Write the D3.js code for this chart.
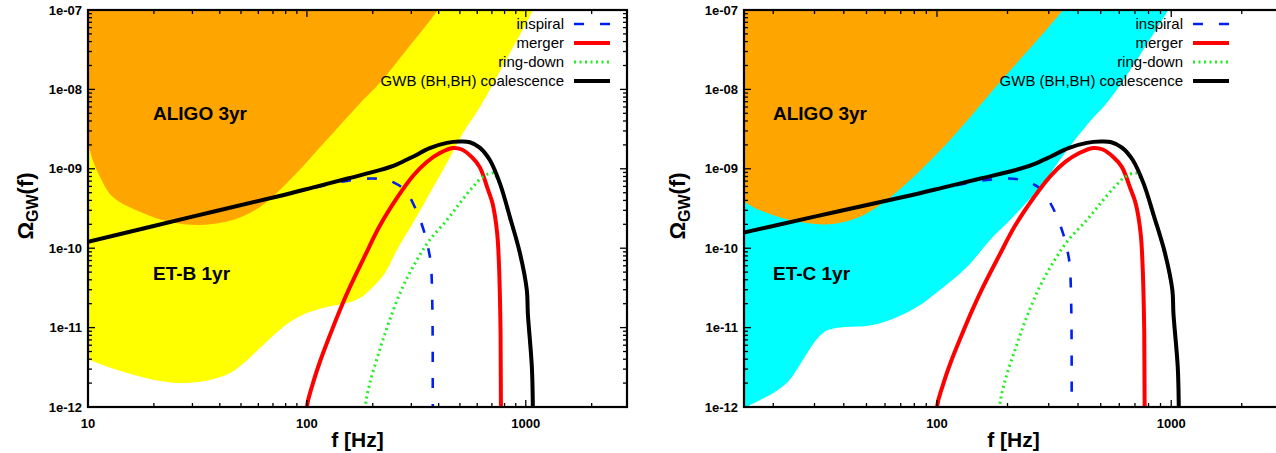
<!DOCTYPE html>
<html>
<head>
<meta charset="utf-8">
<script src="https://cdn.jsdelivr.net/npm/d3@7"></script>
<style>
  body { margin: 0; background: #fff; }
  svg { display: block; }
  text { font-family: "Liberation Sans", Arial, Helvetica, sans-serif; }
</style>
</head>
<body>
<svg id="chart" width="1276" height="453"></svg>
<script>
// ---- axis ticks ----
const yTickValues = [1e-12, 1e-11, 1e-10, 1e-9, 1e-8, 1e-7];
const yTickLabels = ["1e-12", "1e-11", "1e-10", "1e-09", "1e-08", "1e-07"];
const xTickValues = [10, 100, 1000];
const xTickLabels = ["10", "100", "1000"];

// ---- sensitivity curves: [frequency Hz, Omega_GW] (filled region lies above) ----
const aligoLeft = [
  [9.3, 1e-8], [9.9, 2.5e-9], [10.4, 1.41e-9], [11.35, 7.9e-10], [13.0, 4.4e-10],
  [17.8, 2.77e-10], [23.7, 2.14e-10], [32.5, 1.96e-10], [45.9, 2.26e-10],
  [61.0, 3.3e-10], [86.3, 7.9e-10], [123, 2.3e-9], [175, 6.7e-9], [215, 1.2e-8],
  [294, 3.5e-8], [396, 1e-7], [500, 3e-7]
];
const aligoRight = [
  [12.5, 8e-10], [14.97, 3.93e-10], [19.9, 2.62e-10], [27.8, 2.07e-10], [35.9, 2.02e-10],
  [45.5, 2.4e-10], [57.1, 3.5e-10], [74.4, 6.62e-10], [113.7, 2.31e-9], [185.8, 1.24e-8],
  [345, 1e-7], [497, 4.3e-7]
];
const etB = [
  [9.79, 4.14e-12], [11.34, 3.48e-12], [15.08, 2.68e-12], [21.33, 2.12e-12], [27.16, 2.0e-12],
  [36.08, 2.19e-12], [44.53, 2.68e-12], [52.15, 3.69e-12], [61.07, 5.53e-12], [71.5, 8.3e-12],
  [83.7, 1.18e-11], [100.1, 1.53e-11], [123.6, 1.82e-11], [152.5, 2.04e-11], [174.8, 2.36e-11],
  [198.4, 3.16e-11], [227.4, 4.88e-11], [257.9, 9.5e-11], [305.2, 2.07e-10], [364.9, 4.95e-10],
  [436.5, 1.18e-9], [516.6, 2.82e-9], [617.8, 6.0e-9], [803.5, 2.21e-8], [1079, 1e-7],
  [1300, 3e-7]
];
const etC = [
  [13, 5e-13], [14.97, 9.4e-13], [17.52, 1.22e-12], [20.31, 1.55e-12], [23.08, 2.07e-12],
  [25.47, 3.1e-12], [28.1, 4.93e-12], [31.01, 7.4e-12], [34.22, 9.3e-12], [40.45, 1.02e-11],
  [50.2, 1.05e-11], [63.0, 1.25e-11], [82.1, 1.82e-11], [103, 2.98e-11], [134.3, 5.8e-11],
  [168.5, 1.27e-10], [205, 2.26e-10], [275.5, 5.9e-10], [359.4, 1.73e-9], [437.5, 3.6e-9],
  [548.7, 7.6e-9], [971, 1e-7], [1200, 3e-7]
];

// ---- (BH,BH) coalescence background components ----
const inspiral = [
  [10, 1.2e-10], [30, 2.5e-10], [60, 3.95e-10], [100, 5.5e-10], [150, 7.0e-10],
  [200, 7.55e-10], [232, 7.2e-10], [250, 6.7e-10], [272, 5.8e-10], [292, 4.6e-10],
  [311, 3.3e-10], [326, 2.45e-10], [346, 1.5e-10], [357, 1.05e-10], [368, 6.5e-11],
  [374, 2e-11], [376, 1e-12], [376.5, 1e-13]
];
const merger = [
  [99.6, 1e-13], [100, 1e-12], [106, 1.89e-12], [114.6, 3.69e-12], [127.5, 8.07e-12],
  [141.6, 1.67e-11], [157.3, 3.25e-11], [184, 8.0e-11], [215, 1.9e-10], [258, 4.29e-10],
  [305, 8.1e-10], [353, 1.22e-9], [405, 1.58e-9], [464, 1.83e-9], [510, 1.75e-9],
  [567, 1.4e-9], [616, 1.05e-9], [670, 5.6e-10], [706, 3.6e-10], [740, 1.55e-10],
  [755, 5.8e-11], [767, 8.5e-12], [770, 1e-12], [770.5, 1e-13]
];
const ringdown = [
  [184, 1e-13], [185, 1e-12], [194, 2.0e-12], [215, 5.2e-12], [239, 1.25e-11],
  [274, 3.24e-11], [318, 7.1e-11], [364, 1.27e-10], [436, 2.26e-10], [500, 3.7e-10],
  [573, 5.9e-10], [636, 7.9e-10], [710, 8.8e-10], [761, 6.3e-10], [845, 2.4e-10],
  [940, 8.3e-11], [1011, 2.8e-11], [1022, 1.45e-11], [1066, 3e-12], [1078, 1e-12],
  [1080, 1e-13]
];
const gwb = [
  [10, 1.2e-10], [30, 2.5e-10], [75, 4.55e-10], [106, 5.8e-10], [152, 7.5e-10],
  [215, 9.6e-10], [258, 1.14e-9], [305, 1.42e-9], [364, 1.82e-9], [436, 2.12e-9],
  [500, 2.2e-9], [555, 2.16e-9], [616, 1.85e-9], [685, 1.29e-9], [761, 6.6e-10],
  [845, 2.5e-10], [940, 8.7e-11], [1011, 2.97e-11], [1022, 1.5e-11], [1066, 3.2e-12],
  [1077, 1e-12], [1079, 1e-13]
];

const legendNames = ["inspiral", "merger", "ring-down", "GWB (BH,BH) coalescence"];

const svg = d3.select("#chart");

const series = [
  { data: inspiral, color: "#0020f0", width: 2.6, dash: "10,16" },
  { data: merger,   color: "#ff0000", width: 4,   dash: null },
  { data: ringdown, color: "#22ee22", width: 3,   dash: "2,3.5" },
  { data: gwb,      color: "#000000", width: 4,   dash: null }
];

function drawPanel(cfg) {
  const g = svg.append("g");
  const x = d3.scaleLog().domain(cfg.fDomain).range([cfg.left, cfg.right]);
  const y = d3.scaleLog().domain([1e-12, 1e-7]).range([cfg.bottom, cfg.top]);

  const clipId = "clip-" + cfg.id;
  svg.append("clipPath").attr("id", clipId).append("rect")
    .attr("x", cfg.left).attr("y", cfg.top)
    .attr("width", cfg.right - cfg.left).attr("height", cfg.bottom - cfg.top);

  const plot = g.append("g").attr("clip-path", `url(#${clipId})`);
  const smooth = d3.curveCatmullRom.alpha(0.5);

  const above = d3.area()
    .x(d => x(d[0])).y0(cfg.top - 5).y1(d => y(d[1])).curve(smooth);

  plot.append("path").datum(cfg.etData).attr("d", above).attr("fill", cfg.etColor);
  plot.append("path").datum(cfg.aligoData).attr("d", above).attr("fill", "#ffa500");

  // region labels
  g.append("text").attr("x", cfg.labelX).attr("y", 120)
    .attr("font-size", 19).attr("font-weight", "bold").attr("fill", "#000").text("ALIGO 3yr");
  g.append("text").attr("x", cfg.labelX).attr("y", 280)
    .attr("font-size", 19).attr("font-weight", "bold").attr("fill", "#000").text(cfg.etLabel);

  const line = d3.line().x(d => x(d[0])).y(d => y(d[1])).curve(smooth);
  series.forEach(s => {
    plot.append("path").datum(s.data).attr("d", line)
      .attr("fill", "none").attr("stroke", s.color).attr("stroke-width", s.width)
      .attr("stroke-dasharray", s.dash).attr("stroke-linejoin", "round");
  });

  // ticks (inward, mirrored)
  const tk = g.append("g").attr("stroke", "#000").attr("stroke-width", 1.3);
  const yMinor = [];
  for (let e = -12; e < -7; e++) for (let m = 2; m <= 9; m++) yMinor.push(m * Math.pow(10, e));
  yMinor.forEach(v => {
    tk.append("line").attr("x1", cfg.left).attr("x2", cfg.left + 4).attr("y1", y(v)).attr("y2", y(v));
    tk.append("line").attr("x1", cfg.right).attr("x2", cfg.right - 4).attr("y1", y(v)).attr("y2", y(v));
  });
  yTickValues.forEach(v => {
    tk.append("line").attr("x1", cfg.left).attr("x2", cfg.left + 7).attr("y1", y(v)).attr("y2", y(v));
    tk.append("line").attr("x1", cfg.right).attr("x2", cfg.right - 7).attr("y1", y(v)).attr("y2", y(v));
  });
  const xMinor = [];
  for (let e = 1; e <= 3; e++) for (let m = 2; m <= 9; m++) {
    const v = m * Math.pow(10, e);
    if (v > cfg.fDomain[0] && v < cfg.fDomain[1]) xMinor.push(v);
  }
  xMinor.forEach(v => {
    tk.append("line").attr("x1", x(v)).attr("x2", x(v)).attr("y1", cfg.bottom).attr("y2", cfg.bottom - 4);
    tk.append("line").attr("x1", x(v)).attr("x2", x(v)).attr("y1", cfg.top).attr("y2", cfg.top + 4);
  });
  xTickValues.forEach(v => {
    if (v < cfg.fDomain[0] || v > cfg.fDomain[1]) return;
    tk.append("line").attr("x1", x(v)).attr("x2", x(v)).attr("y1", cfg.bottom).attr("y2", cfg.bottom - 7);
    tk.append("line").attr("x1", x(v)).attr("x2", x(v)).attr("y1", cfg.top).attr("y2", cfg.top + 7);
  });

  // frame
  g.append("rect").attr("x", cfg.left).attr("y", cfg.top)
    .attr("width", cfg.right - cfg.left).attr("height", cfg.bottom - cfg.top)
    .attr("fill", "none").attr("stroke", "#000").attr("stroke-width", 2.2);

  // tick labels
  yTickValues.forEach((v, i) => {
    g.append("text").attr("x", cfg.left - 6).attr("y", y(v) + 4.5)
      .attr("text-anchor", "end").attr("font-size", 13).attr("font-weight", "bold")
      .text(yTickLabels[i]);
  });
  xTickValues.forEach((v, i) => {
    if (v < cfg.fDomain[0] || v > cfg.fDomain[1]) return;
    g.append("text").attr("x", x(v)).attr("y", cfg.bottom + 21)
      .attr("text-anchor", "middle").attr("font-size", 13).attr("font-weight", "bold")
      .text(xTickLabels[i]);
  });

  // axis titles
  g.append("text").attr("x", (cfg.left + cfg.right) / 2).attr("y", 447)
    .attr("text-anchor", "middle").attr("font-size", 21).attr("font-weight", "bold")
    .text("f [Hz]");
  const yt = g.append("text")
    .attr("transform", `translate(${cfg.yTitleX},206) rotate(-90)`)
    .attr("text-anchor", "middle").attr("font-size", 22).attr("font-weight", "bold");
  yt.append("tspan").text("Ω");
  yt.append("tspan").attr("dy", 5).attr("font-size", 16).text("GW");
  yt.append("tspan").attr("dy", -5).text("(f)");

  // legend
  const lg = g.append("g");
  series.forEach((s, i) => {
    const ry = 24 + i * 19;
    lg.append("text").attr("x", cfg.legendTextX).attr("y", ry + 5)
      .attr("text-anchor", "end").attr("font-size", 15).text(legendNames[i]);
    lg.append("line").attr("x1", cfg.legendLineX).attr("x2", cfg.legendLineX + 36)
      .attr("y1", ry).attr("y2", ry)
      .attr("stroke", s.color).attr("stroke-width", s.width).attr("stroke-dasharray", s.dash);
  });
}

drawPanel({
  id: "b", left: 88, right: 627, top: 10, bottom: 407, fDomain: [10, 2900],
  etData: etB, etColor: "#ffff00", etLabel: "ET-B 1yr", aligoData: aligoLeft,
  labelX: 153, yTitleX: 33, legendTextX: 564, legendLineX: 574
});
drawPanel({
  id: "c", left: 744, right: 1283, top: 10, bottom: 407, fDomain: [15, 3000],
  etData: etC, etColor: "#00ffff", etLabel: "ET-C 1yr", aligoData: aligoRight,
  labelX: 773, yTitleX: 685, legendTextX: 1183, legendLineX: 1193
});
</script>
</body>
</html>
